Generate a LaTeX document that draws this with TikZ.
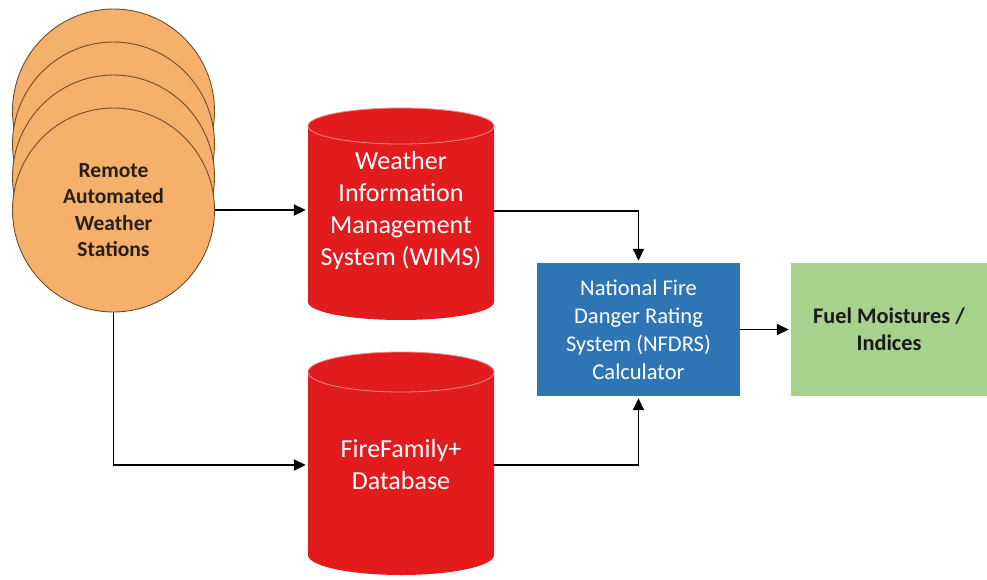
\documentclass[tikz,border=0pt]{standalone}
\usepackage{fontspec}
\setmainfont{Carlito}
\usetikzlibrary{arrows.meta,shapes.geometric}
\definecolor{orfill}{RGB}{245,176,108}
\definecolor{ordraw}{RGB}{110,75,40}
\definecolor{cylred}{RGB}{226,28,28}
\definecolor{cyledge}{RGB}{245,135,135}
\definecolor{nblue}{RGB}{46,117,182}
\definecolor{lgreen}{RGB}{169,209,142}
\begin{document}
\begin{tikzpicture}[x=1pt,y=-1pt,
  disc/.style={ellipse, draw=ordraw, line width=0.9pt, fill=orfill,
    minimum width=202pt, minimum height=204pt, inner sep=0pt},
  cyltext/.style={minimum width=186pt, minimum height=200pt, inner sep=0pt,
    text=white, align=center, font=\fontsize{26}{32}\selectfont},
  arr/.style={-{Triangle[length=12pt,width=11pt]}, line width=1.8pt, black, shorten >=2pt},
  boxnode/.style={minimum height=133pt, inner sep=0pt, align=center}]
\useasboundingbox (0,0) rectangle (987,580);

% stacked weather stations
\node[disc] (d1) at (113.5,111) {};
\node[disc] (d2) at (113.5,144) {};
\node[disc] (d3) at (113.5,177) {};
\node[disc, align=center, font=\bfseries\fontsize{21.5}{26.5}\selectfont, text={rgb,255:red,40;green,30;blue,20}]
  (raws) at (113.5,210) {Remote\\Automated\\Weather\\Stations};

% WIMS cylinder
\fill[cylred] (308,126) -- (308,302)
  arc[start angle=180, end angle=0, x radius=93, y radius=18]
  -- (494,126)
  arc[start angle=0, end angle=-180, x radius=93, y radius=18] -- cycle;
\draw[cyledge, line width=0.8pt] (401,126) ellipse [x radius=93, y radius=18];
\node[cyltext] (wims) at (401,211) {Weather\\Information\\Management\\System (WIMS)};

% FireFamily+ cylinder
\fill[cylred] (308,372) -- (308,555)
  arc[start angle=180, end angle=0, x radius=93, y radius=20]
  -- (494,372)
  arc[start angle=0, end angle=-180, x radius=93, y radius=20] -- cycle;
\draw[cyledge, line width=0.8pt] (401,372) ellipse [x radius=93, y radius=20];
\node[cyltext] (ff) at (401,465) {FireFamily+\\Database};

% NFDRS calculator
\node[boxnode, fill=nblue, minimum width=203pt, text=white,
  font=\fontsize{22.5}{28}\selectfont] (nfdrs) at (638.5,329.5)
  {National Fire\\Danger Rating\\System (NFDRS)\\Calculator};

% Fuel moistures
\node[boxnode, fill=lgreen, minimum width=196pt,
  font=\bfseries\fontsize{22.3}{27}\selectfont, text={rgb,255:red,25;green,25;blue,25}] (fuel) at (889,329.5)
  {Fuel Moistures /\\Indices};

% connectors
\draw[arr] (raws.east) -- (raws.east -| wims.west);
\draw[arr] (raws.south) |- (ff.west);
\draw[arr] (wims.east) -| (nfdrs.north);
\draw[arr] (ff.east) -| (nfdrs.south);
\draw[arr] (nfdrs.east) -- (fuel.west);
\end{tikzpicture}
\end{document}
